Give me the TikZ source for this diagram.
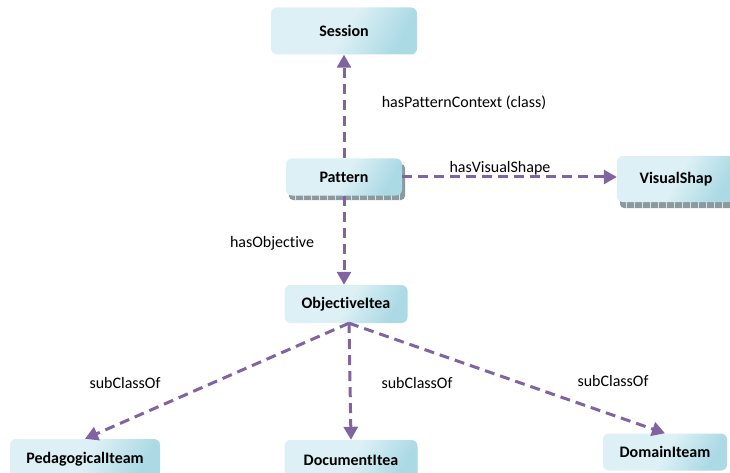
\documentclass[tikz,border=0pt]{standalone}
\usepackage{fontspec}
\setmainfont{Carlito}[Ligatures=NoCommon]
\usetikzlibrary{arrows.meta,calc}
\definecolor{arrowpurple}{HTML}{8064A2}
\definecolor{boxlight}{HTML}{DDF0F5}
\definecolor{boxdark}{HTML}{9ED3E0}
\definecolor{shadowgray}{HTML}{8A9A9E}
\tikzset{
  conceptbox/.style={rounded corners=6pt, left color=boxlight, right color=boxdark!80!boxlight, middle color=boxlight, shading angle=60, draw=none, font=\fontsize{16}{19}\selectfont\bfseries, inner sep=0pt},
  relarrow/.style={draw=arrowpurple, line width=3pt, dash pattern=on 10pt off 6pt, -{Triangle[length=13pt,width=14pt]}},
  rellabel/.style={font=\fontsize{16}{19}\selectfont, text=black, inner sep=0pt},
  stackshadow/.style={rounded corners=4pt, fill=shadowgray, draw=none}
}
\begin{document}
\begin{tikzpicture}[x=1pt,y=-1pt]
\useasboundingbox (0,0) rectangle (730,473);
\clip (0,0) rectangle (730,473);
% shadows of stacked boxes
\fill[stackshadow] (289,164) rectangle (405,200);
\foreach \xx in {295,303,...,400} \draw[white!70!shadowgray, line width=0.6pt] (\xx,194) -- (\xx,200);
\fill[stackshadow] (620,165) rectangle (740,208);
\foreach \xx in {626,634,...,730} \draw[white!70!shadowgray, line width=0.6pt] (\xx,202) -- (\xx,208);
% nodes
\node[conceptbox, minimum width=146pt, minimum height=47pt] (session) at (344,31) {Session};
\node[conceptbox, minimum width=116pt, minimum height=37pt] (pattern) at (344,177) {Pattern};
\node[conceptbox, minimum width=118pt, minimum height=46pt] (visual) at (676,179) {VisualShap};
\node[conceptbox, minimum width=123pt, minimum height=38pt] (objective) at (346,304) {ObjectiveItea};
\node[conceptbox, minimum width=150pt, minimum height=40pt] (pedagogical) at (85,459) {PedagogicalIteam};
\node[conceptbox, minimum width=133pt, minimum height=40pt] (document) at (351,460) {DocumentItea};
\node[conceptbox, minimum width=124pt, minimum height=37pt] (domain) at (665,452) {DomainIteam};
% connectors
\draw[relarrow] (pattern.north) -- (session.south -| pattern.north);
\draw[relarrow] (pattern.east) -- (pattern.east -| visual.west);
\draw[relarrow] (pattern.south) -- (pattern.south |- objective.north);
\draw[relarrow] ([xshift=3pt]objective.south) -- (pedagogical.north);
\draw[relarrow] ([xshift=3pt]objective.south) -- (document.north);
\draw[relarrow] ([xshift=3pt]objective.south) -- (domain.north);
% labels
\node[rellabel] (l1) at (464,103) {hasPatternContext (class)};
\node[rellabel] (l2) at (500,168) {hasVisualShape};
\node[rellabel] (l3) at (272,243) {hasObjective};
\node[rellabel] (l4) at (125,383) {subClassOf};
\node[rellabel] (l5) at (417,383) {subClassOf};
\node[rellabel] (l6) at (613,381) {subClassOf};
\end{tikzpicture}
\end{document}
